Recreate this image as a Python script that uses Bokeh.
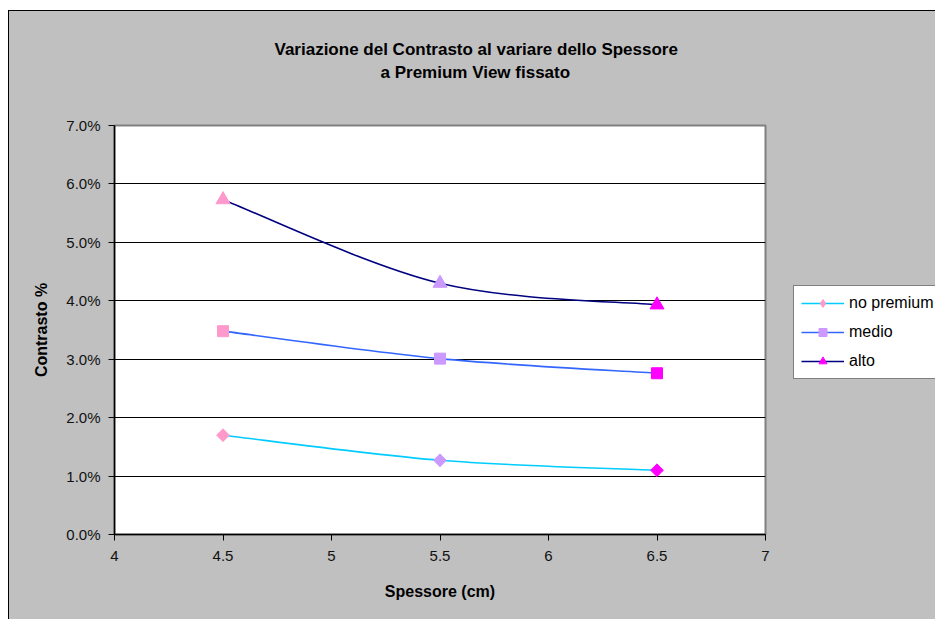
import math
from bokeh.plotting import figure
from bokeh.layouts import row
from bokeh.models import (ColumnDataSource, FixedTicker, CustomJSTickFormatter, PrintfTickFormatter,
                          Legend, LegendItem, Title, Range1d, LinearAxis)
from bokeh.embed import file_html
from bokeh.resources import INLINE

# ---- data ----
spessore = [4.5, 5.5, 6.5]
no_premium = [1.70, 1.27, 1.10]
medio = [3.48, 3.01, 2.76]
alto = [5.73, 4.30, 3.93]
point_colors = ["#ff99cc", "#cc99ff", "#ff00ff"]
x_ticks = [4, 4.5, 5, 5.5, 6, 6.5, 7]
y_ticks = [0, 1, 2, 3, 4, 5, 6, 7]
title_line1 = "Variazione del Contrasto al variare dello Spessore"
title_line2 = "a Premium View fissato"
series_names = ["no premium", "medio", "alto"]
series_values = [no_premium, medio, alto]
line_colors = ["#00ccff", "#3366ff", "#000080"]

FONT = "Liberation Sans"
BG = "#c0c0c0"

p = figure(width=776, height=608, output_backend="svg", toolbar_location=None, title=None,
           x_range=Range1d(4, 7), y_range=Range1d(0, 7),
           min_border_left=105, min_border_right=20, min_border_top=114, min_border_bottom=85)
p.border_fill_color = BG
p.background_fill_color = "white"
p.outline_line_color = "#808080"
p.outline_line_width = 2

xax = p.below[0]
yax = p.left[0]

# invisible spacer axis (blank label with standoff) to lift the titles
spacer_top = LinearAxis(ticker=FixedTicker(ticks=[]), axis_line_color=None,
                        major_tick_line_color=None, minor_tick_line_color=None,
                        axis_label=" ", axis_label_standoff=23, axis_label_text_font_size="16px")
p.add_layout(spacer_top, "above")

t2 = Title(text=title_line2, align="left", offset=266, text_font=FONT, text_font_size="17px",
           text_font_style="bold", text_color="black", standoff=2)
t1 = Title(text=title_line1, align="left", offset=160, text_font=FONT,
           text_font_size="17px", text_font_style="bold", text_color="black", standoff=2)
p.add_layout(t2, "above")
p.add_layout(t1, "above")

for ax in (xax, yax):
    ax.axis_line_color = "black"
    ax.axis_line_width = 1.5
    ax.major_tick_line_color = "black"
    ax.major_tick_out = 6
    ax.major_tick_in = 0
    ax.minor_tick_line_color = None
    ax.major_label_text_font = FONT
    ax.major_label_text_font_size = "15px"
    ax.major_label_text_color = "#111111"
    ax.axis_label_text_font = FONT
    ax.axis_label_text_font_size = "16px"
    ax.axis_label_text_font_style = "bold"
    ax.axis_label_text_color = "black"

xax.ticker = FixedTicker(ticks=x_ticks)
xax.formatter = CustomJSTickFormatter(code="return tick.toString()")
xax.axis_label = "Spessore (cm)"
xax.major_label_standoff = 10
xax.axis_label_standoff = 19

yax.ticker = FixedTicker(ticks=y_ticks)
yax.formatter = PrintfTickFormatter(format="%.1f%%")
yax.axis_label = "Contrasto %"
yax.major_label_standoff = 8
yax.axis_label_standoff = 13

p.xgrid.grid_line_color = None
p.ygrid.ticker = FixedTicker(ticks=[1, 2, 3, 4, 5, 6])
p.ygrid.grid_line_color = "black"
p.ygrid.grid_line_width = 1


def smooth_segments(xs, ys):
    n = len(xs)
    out = dict(x0=[], y0=[], x1=[], y1=[], cx0=[], cy0=[], cx1=[], cy1=[])
    for i in range(n - 1):
        im1 = max(i - 1, 0)
        ip2 = min(i + 2, n - 1)
        out["x0"].append(xs[i]); out["y0"].append(ys[i])
        out["x1"].append(xs[i + 1]); out["y1"].append(ys[i + 1])
        out["cx0"].append(xs[i] + (xs[i + 1] - xs[im1]) / 6)
        out["cy0"].append(ys[i] + (ys[i + 1] - ys[im1]) / 6)
        out["cx1"].append(xs[i + 1] - (xs[ip2] - xs[i]) / 6)
        out["cy1"].append(ys[i + 1] - (ys[ip2] - ys[i]) / 6)
    return out


def draw_marker(fig, si, j):
    x = [spessore[j]]
    y = [series_values[si][j]]
    c = point_colors[j]
    if si == 0:
        r = fig.scatter(x=x, y=y, marker="diamond", size=12, fill_color=c, line_color=c)
        fig.scatter(x=x, y=y, marker="square", angle=math.pi / 4, size=9, fill_color=c, line_color=c)
        return r
    if si == 1:
        return fig.scatter(x=x, y=y, marker="square", size=11, fill_color=c, line_color=c)
    return fig.scatter(x=x, y=y, marker="triangle", size=14, fill_color=c, line_color=c)


def draw_series(fig, si, points):
    bsrc = ColumnDataSource(smooth_segments(spessore, series_values[si]))
    br = fig.bezier(x0="x0", y0="y0", x1="x1", y1="y1", cx0="cx0", cy0="cy0", cx1="cx1", cy1="cy1",
                    source=bsrc, line_color=line_colors[si], line_width=1.6)
    legend_marker = None
    for j in points:
        r = draw_marker(fig, si, j)
        if j == si:
            legend_marker = r
    return br, legend_marker


for si in range(len(series_names)):
    draw_series(p, si, range(len(spessore)))

# ---- legend panel: a second figure to the right of the chart ----
lf = figure(width=150, height=608, output_backend="svg", toolbar_location=None, title=None,
            x_range=Range1d(0, 1), y_range=Range1d(0, 1), x_axis_type=None, y_axis_type=None,
            min_border=0, min_border_left=0, min_border_right=0, min_border_top=0, min_border_bottom=0)
lf.border_fill_color = BG
lf.background_fill_color = BG
lf.outline_line_color = None

items = []
for si, name in enumerate(series_names):
    # same series drawn in the legend panel (outside its visible range) so the legend shows its glyphs
    br, mr = draw_series(lf, si, [si])
    items.append(LegendItem(label=name, renderers=[br, mr]))

legend = Legend(items=items, location=(8, 155), orientation="vertical",
                label_text_font=FONT, label_text_font_size="16px", label_text_color="black",
                glyph_width=43, glyph_height=20, label_height=20, spacing=9, padding=7,
                label_standoff=5, margin=0,
                border_line_color="black", border_line_width=1.5,
                background_fill_color="white", background_fill_alpha=1)
lf.add_layout(legend, "center")

page = row(p, lf, margin=(10, 0, 0, 8), spacing=0,
           styles={"border-left": "1px solid black", "border-top": "1px solid black",
                   "background-color": BG})

with open("out.html", "w") as f:
    f.write(file_html(page, INLINE))
